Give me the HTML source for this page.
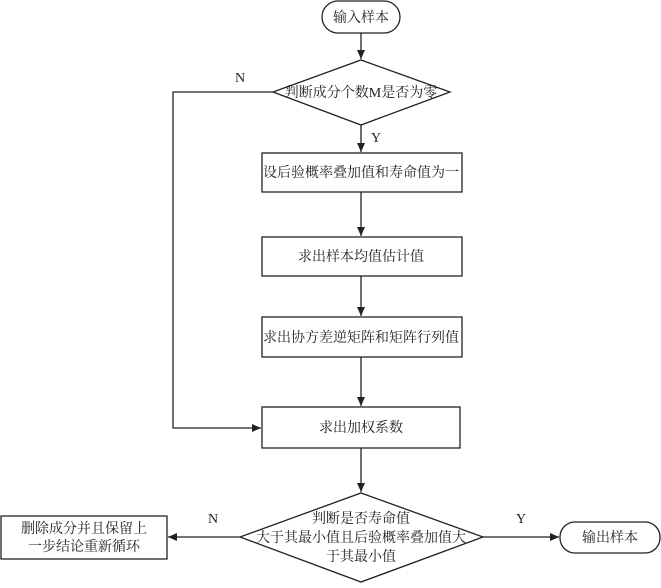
<!DOCTYPE html>
<html><head><meta charset="utf-8"><style>
html,body{margin:0;padding:0;background:#fff;}
svg text{font-family:"Liberation Serif","Noto Serif CJK SC","Noto Sans CJK SC",serif;font-size:14px;fill:#222;}
</style></head><body>
<svg width="661" height="583" viewBox="0 0 661 583" xmlns="http://www.w3.org/2000/svg">
<defs><marker id="a" markerWidth="10" markerHeight="10" refX="9" refY="5" orient="auto" markerUnits="userSpaceOnUse"><path d="M0,1 L9,5 L0,9 z" fill="#222"/></marker></defs>
<g stroke="#222" stroke-width="1.3" fill="none">
<rect x="322" y="1" width="78" height="32" rx="16"/>
<line x1="361" y1="33" x2="361" y2="59" marker-end="url(#a)"/>
<polygon points="361,60 450,92 361,125 273,92"/>
<line x1="361" y1="125" x2="361" y2="152" marker-end="url(#a)"/>
<rect x="262" y="153" width="200" height="39"/>
<line x1="361" y1="192" x2="361" y2="236" marker-end="url(#a)"/>
<rect x="262" y="237" width="200" height="39"/>
<line x1="361" y1="276" x2="361" y2="316" marker-end="url(#a)"/>
<rect x="262" y="317" width="200" height="40"/>
<line x1="361" y1="357" x2="361" y2="406" marker-end="url(#a)"/>
<rect x="262" y="407" width="198" height="41"/>
<polyline points="273,92 173,92 173,428 261,428" marker-end="url(#a)"/>
<line x1="361" y1="448" x2="361" y2="492" marker-end="url(#a)"/>
<polygon points="361,493 483,537 361,582 240,537"/>
<line x1="240" y1="537" x2="168" y2="537" marker-end="url(#a)"/>
<rect x="1" y="516" width="166" height="43"/>
<line x1="483" y1="537" x2="559" y2="537" marker-end="url(#a)"/>
<rect x="560" y="522" width="100" height="31" rx="15"/>
</g>
<g text-anchor="middle">
<text x="361" y="22">输入样本</text>
<text x="361" y="97">判断成分个数M是否为零</text>
<text x="361" y="177">设后验概率叠加值和寿命值为一</text>
<text x="361" y="261">求出样本均值估计值</text>
<text x="361" y="342">求出协方差逆矩阵和矩阵行列值</text>
<text x="361" y="432">求出加权系数</text>
<text x="361" y="523">判断是否寿命值</text>
<text x="361" y="542">大于其最小值且后验概率叠加值大</text>
<text x="361" y="561">于其最小值</text>
<text x="84" y="533">删除成分并且保留上</text>
<text x="84" y="551">一步结论重新循环</text>
<text x="610" y="542">输出样本</text>
<text x="240" y="82">N</text>
<text x="376" y="142">Y</text>
<text x="213" y="523">N</text>
<text x="521" y="523">Y</text>
</g>
</svg>
</body></html>
